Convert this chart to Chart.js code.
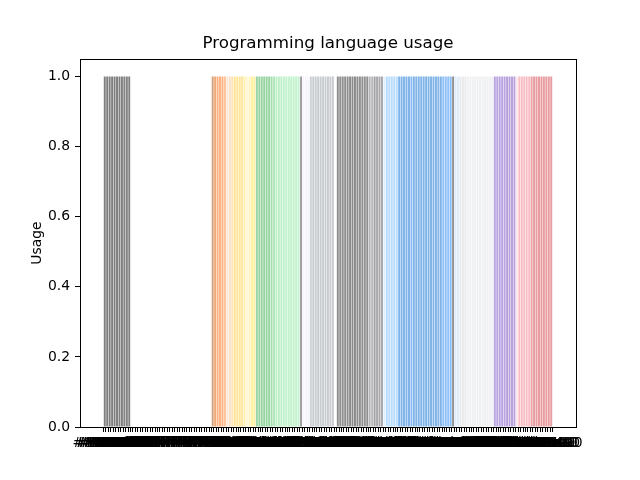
<!DOCTYPE html>
<html><head><meta charset="utf-8">
<script src="https://cdn.jsdelivr.net/npm/chart.js@4/dist/chart.umd.min.js"></script>
<style>html,body{margin:0;padding:0;background:#fff}canvas{display:block}</style>
</head><body>
<canvas id="c" width="640" height="480"></canvas>
<script>
const categories = [
 '#808080','#808080','#808080','#808080','#808080','#808080','#808080','#808080','#808080','#808080','#808080',
 '#ffffff','#ffffff','#ffffff','#ffffff','#ffffff','#ffffff','#ffffff','#ffffff','#ffffff','#ffffff','#ffffff',
 '#ffffff','#ffffff','#ffffff','#ffffff','#ffffff','#ffffff','#ffffff','#ffffff','#ffffff','#ffffff','#ffffff',
 '#ffffff','#ffffff','#ffffff','#ffffff','#ffffff','#ffffff','#ffffff','#ffffff','#ffffff','#ffffff','#ffffff',
 '#d4a07c','#f0a878','#fbb07e','#fdb080','#fdb383','#fdc49a','#fde8d8','#fde0c8','#fde6b0','#fee59a','#fee59a','#fee49b','#fee59a','#fff0b0','#fff7d8','#fff3c0','#fff3a0','#fff0a0',
 '#97d4a3','#98d4a2','#98d4a2','#96d3a0','#98d4a2','#9ad6a4','#a4deb0','#b0e8bc','#bdf0c8','#bff0c8','#bdf0c8','#c0f2cc','#c0f2cc','#c0f2cc','#c0f2cc','#c3f3cd','#c3f3cd','#c3f3cd',
 '#a0a0a4','#f6f6fc','#f6f6fc','#f6f6fc','#cdd0d4','#c8ccd0','#c8ccd0','#c8ccd0','#c8ccd0','#c8ccd0','#c8ccd0','#c8ccd0','#c8ccd0','#c8ccd0','#ffffff',
 '#8f8f8f','#8f8f8f','#8f8f8f','#8f8f8f','#8f8f8f','#8c8c8c','#8c8c8c','#8c8c8c','#8c8c8c','#909090','#909090','#909090','#909090','#b8b8bc','#b8b8bc','#a0a0a4','#a8a8ac','#a8a8ac','#a8a8ac',
 '#e0f0ff','#b8dcff','#b8dcfc','#b8dcfc','#b8dcfc','#b8dcfc','#80b4ec','#7fb2e8','#7fb2e8','#7fb2e8','#7fb2e8','#88bcf4',
 '#80b4e8','#80b4e8','#80b4e8','#80b4e8','#80b4e8','#80b4e8','#80b4e8','#80b4e8','#80b4e8','#80b4e8','#80b4e8','#80b4e8','#90c0f8','#90c0f8','#90c0f8','#88bcf4',
 '#909090','#e0ecfa','#e0ecfa','#e8eaec','#e8eaec','#e8eaec','#eef0f2','#eef0f2','#eef0f2','#eef0f2','#eef0f2','#eef0f2','#eef0f2','#eef0f2','#eef0f2','#f0f0f4','#f0f0f4',
 '#b8a4e0','#b8a4e0','#b8a4e0','#b8a4e0','#b8a4e0','#b8a0dc','#b8a0dc','#b8a0dc','#b8a0dc','#fce8ec','#f8bcc4','#f8bcc4','#f8bcc4','#f8bcc4','#f8bcc4','#e8a0a4',
 '#e89ca0','#e89ca0','#e89ca0','#e89ca0','#e89ca0','#e89ca0','#e89ca0','#e89ca0'
];
const usage = [
 1,1,1,1,1,1,1,1,1,1, 1,1,1,1,1,1,1,1,1,1, 1,1,1,1,1,1,1,1,1,1,
 1,1,1,1,1,1,1,1,1,1, 1,1,1,1,1,1,1,1,1,1, 1,1,1,1,1,1,1,1,1,1,
 1,1,1,1,1,1,1,1,1,1, 1,1,1,1,1,1,1,1,1,1, 1,1,1,1,1,1,1,1,1,1,
 1,1,1,1,1,1,1,1,1,1, 1,1,1,1,1,1,1,1,1,1, 1,1,1,1,1,1,1,1,1,1,
 1,1,1,1,1,1,1,1,1,1, 1,1,1,1,1,1,1,1,1,1, 1,1,1,1,1,1,1,1,1,1,
 1,1,1,1,1,1,1,1,1,1, 1,1,1,1,1,1,1,1,1,1, 1,1,1,1,1,1,1,1,1,1,
 1,1,1
];
const yTicks = [0.0, 0.2, 0.4, 0.6, 0.8, 1.0];
const chartTitle = 'Programming language usage';
const yLabel = 'Usage';

Chart.defaults.font.family = "'DejaVu Sans', sans-serif";
Chart.defaults.color = '#000';

const frame = {
  id: 'frame',
  afterDatasetsDraw(chart) {
    const {ctx, chartArea: a} = chart;
    ctx.save();
    ctx.strokeStyle = '#000';
    ctx.lineWidth = 1;
    ctx.strokeRect(Math.round(a.left) + 0.5, Math.round(a.top) + 0.5,
                   Math.round(a.right - a.left), Math.round(a.bottom - a.top));
    ctx.restore();
  },
  afterDraw(chart) {
    const {ctx, chartArea: a} = chart;
    ctx.save();
    ctx.fillStyle = '#000';
    ctx.font = "16.7px 'DejaVu Sans', sans-serif";
    ctx.textAlign = 'center';
    ctx.textBaseline = 'middle';
    ctx.fillText(chartTitle, (a.left + a.right) / 2, 44);
    ctx.restore();
  }
};

const n = categories.length;
const span = n - 0.2;

new Chart(document.getElementById('c'), {
  type: 'bar',
  data: {
    datasets: [{
      data: usage.map((v, i) => ({x: i, y: v})),
      backgroundColor: categories,
      borderWidth: 0,
      barPercentage: 0.8,
      categoryPercentage: 1.0
    }]
  },
  options: {
    responsive: false,
    animation: false,
    devicePixelRatio: 1,
    layout: {padding: {left: 0, right: 64, top: 0, bottom: 0}},
    plugins: {
      legend: {display: false},
      tooltip: {enabled: false},
      title: {display: true, text: chartTitle, color: 'rgba(0,0,0,0)',
              font: {size: 16.7, weight: 'normal'}, padding: {top: 34, bottom: 5}}
    },
    scales: {
      x: {
        type: 'linear',
        min: -0.4 - 0.05 * span,
        max: n - 0.6 + 0.05 * span,
        afterBuildTicks(axis) { axis.ticks = categories.map((c, i) => ({value: i})); },
        ticks: {autoSkip: false, maxRotation: 0, minRotation: 0, font: {size: 13.9}, padding: 3,
                callback: (v) => categories[Math.round(v)]},
        grid: {drawOnChartArea: false, drawTicks: true, tickLength: 5, color: '#000'},
        border: {display: false},
        afterFit(s) { s.height = 53; }
      },
      y: {
        min: 0, max: 1.05,
        afterBuildTicks(axis) { axis.ticks = yTicks.map(v => ({value: v})); },
        ticks: {font: {size: 13.9}, padding: 5, callback: (v) => Number(v).toFixed(1)},
        grid: {drawOnChartArea: false, drawTicks: true, tickLength: 5, color: '#000'},
        border: {display: false},
        title: {display: true, text: yLabel, color: '#000', font: {size: 13.9}, padding: {top: 29, bottom: 0}},
        afterFit(s) { s.width = 80; }
      }
    }
  },
  plugins: [frame]
});
</script>
</body></html>
